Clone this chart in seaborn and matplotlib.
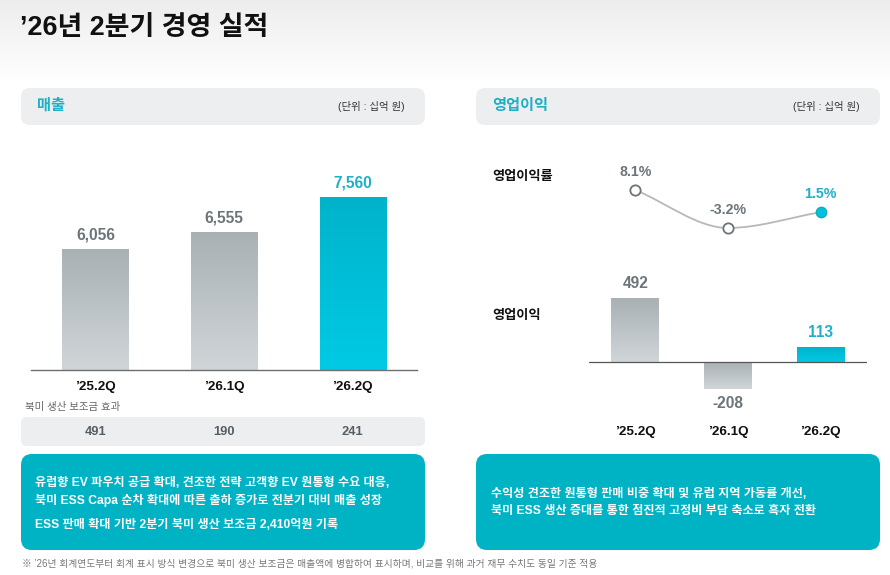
import numpy as np
import pandas as pd
import matplotlib
matplotlib.use("Agg")
import matplotlib.pyplot as plt
import seaborn as sns
from matplotlib.patches import FancyBboxPatch, PathPatch
from matplotlib.path import Path
from matplotlib.colors import LinearSegmentedColormap
from matplotlib.transforms import blended_transform_factory

# ---------------- data ----------------
quarters = ["’25.2Q", "’26.1Q", "’26.2Q"]
sales = [6056, 6555, 7560]
subsidy = [491, 190, 241]
op_profit = [492, -208, 113]
op_margin = [8.1, -3.2, 1.5]

title = "’26년 2분기 경영 실적"
left_header = "매출"
right_header = "영업이익"
unit_text = "(단위 : 십억 원)"
subsidy_label = "북미 생산 보조금 효과"
margin_label = "영업이익률"
profit_label = "영업이익"
left_notes = ["유럽향 EV 파우치 공급 확대, 견조한 전략 고객향 EV 원통형 수요 대응,",
              "북미 ESS Capa 순차 확대에 따른 출하 증가로 전분기 대비 매출 성장",
              "ESS 판매 확대 기반 2분기 북미 생산 보조금 2,410억원 기록"]
right_notes = ["수익성 견조한 원통형 판매 비중 확대 및 유럽 지역 가동률 개선,",
               "북미 ESS 생산 증대를 통한 점진적 고정비 부담 축소로 흑자 전환"]
footnote = "※ ’26년 회계연도부터 회계 표시 방식 변경으로 북미 생산 보조금은 매출액에 병합하여 표시하며, 비교를 위해 과거 재무 수치도 동일 기준 적용"

# ---------------- style ----------------
sns.set_theme(style="white")
plt.rcParams["font.family"] = ["Liberation Sans", "Noto Sans CJK KR", "DejaVu Sans"]

W, H = 890, 575
TEAL = "#1db0c6"
TEAL_BOX = "#00b3c4"
GRAY_TXT = "#6b757a"
HEADER_BG = "#eceef0"
GRAY_TOP, GRAY_BOT = "#a9b1b5", "#d0d5d8"
TEAL_TOP, TEAL_BOT = "#00b3cb", "#00cae4"

fig = plt.figure(figsize=(W / 100, H / 100), dpi=100)


def rect(x0, y0, x1, y1):
    return [x0 / W, 1 - y1 / H, (x1 - x0) / W, (y1 - y0) / H]


# background axes in pixel coordinates
bg = fig.add_axes([0, 0, 1, 1], zorder=0)
bg.set_xlim(0, W)
bg.set_ylim(H, 0)
bg.axis("off")

# top gradient
gcm = LinearSegmentedColormap.from_list("g", ["#ededed", "#ffffff"])
bg.imshow(np.linspace(0, 1, 100).reshape(-1, 1), cmap=gcm, aspect="auto",
          extent=(0, W, 82, 0), zorder=0)
bg.set_xlim(0, W)
bg.set_ylim(H, 0)


def rbox(x0, y0, x1, y1, color, r=9):
    p = FancyBboxPatch((x0, y0), x1 - x0, y1 - y0,
                       boxstyle=f"round,pad=0,rounding_size={r}",
                       facecolor=color, edgecolor="none", zorder=1)
    bg.add_patch(p)


bg.text(20, 28, title, fontsize=19.4, fontweight="heavy", color="#111111",
        va="center", ha="left")

# headers
rbox(21, 88, 425, 125, HEADER_BG)
rbox(476, 88, 880, 125, HEADER_BG)
bg.text(37, 106, left_header, fontsize=11, fontweight="bold", color=TEAL, va="center")
bg.text(405, 106, unit_text, fontsize=7.5, color="#333333", va="center", ha="right")
bg.text(492, 106, right_header, fontsize=11, fontweight="bold", color=TEAL, va="center")
bg.text(860, 106, unit_text, fontsize=7.5, color="#333333", va="center", ha="right")

# subsidy row
bg.text(25, 407, subsidy_label, fontsize=7.5, color="#666666", va="center")
rbox(21, 417, 425, 446, HEADER_BG, r=6)

# teal boxes
rbox(21, 454, 425, 550, TEAL_BOX, r=11)
rbox(476, 454, 880, 550, TEAL_BOX, r=11)
for txt, y in zip(left_notes, [483, 500, 525]):
    bg.text(35, y, txt, fontsize=8.7, fontweight="bold", color="white", va="center")
for txt, y in zip(right_notes, [494, 511]):
    bg.text(491, y, txt, fontsize=8.7, fontweight="bold", color="white", va="center")

bg.text(22, 563, footnote, fontsize=7.0, color="#777777", va="center")

# right side labels
bg.text(492, 177, margin_label, fontsize=9.5, fontweight="bold", color="#111111", va="center")
bg.text(492, 316, profit_label, fontsize=9.5, fontweight="bold", color="#111111", va="center")


def grad_bars(ax, colors):
    ylo_lim, yhi_lim = ax.get_ylim()
    xl = ax.get_xlim()
    for patch, (ctop, cbot) in zip(ax.patches, colors):
        x0, y0 = patch.get_x(), patch.get_y()
        w, h = patch.get_width(), patch.get_height()
        lo, hi = min(y0, y0 + h), max(y0, y0 + h)
        lo = max(lo, ylo_lim)
        cm = LinearSegmentedColormap.from_list("b", [ctop, cbot])
        im = ax.imshow(np.linspace(0, 1, 100).reshape(-1, 1), cmap=cm, aspect="auto",
                       extent=(x0, x0 + w, lo, hi), origin="upper", zorder=2)
        im.set_clip_path(patch)
        patch.set_facecolor("none")
    ax.set_xlim(xl)
    ax.set_ylim(ylo_lim, yhi_lim)


bar_colors = [(GRAY_TOP, GRAY_BOT), (GRAY_TOP, GRAY_BOT), (TEAL_TOP, TEAL_BOT)]
label_colors = [GRAY_TXT, GRAY_TXT, TEAL]

# ---------------- left: sales ----------------
ax1 = fig.add_axes(rect(31, 150, 417, 370), zorder=2)
ax1.patch.set_alpha(0)
df_s = pd.DataFrame({"q": quarters, "v": sales})
sns.barplot(data=df_s, x="q", y="v", hue="q", palette=[c[0] for c in bar_colors],
            width=0.513, legend=False, ax=ax1, edgecolor="none")
ax1.set_xlim(-0.5, 2.5)
ax1.set_ylim(2556, 8920)
grad_bars(ax1, bar_colors)
for i, v in enumerate(sales):
    ax1.annotate(f"{v:,}", (i, v), xytext=(0, 10), textcoords="offset points",
                 ha="center", va="center", fontsize=11.2, fontweight="bold",
                 color=label_colors[i])
for s in ["top", "left", "right"]:
    ax1.spines[s].set_visible(False)
ax1.spines["bottom"].set_color("#6f6f6f")
ax1.spines["bottom"].set_linewidth(1.0)
ax1.set_yticks([])
ax1.set_xlabel("")
ax1.set_ylabel("")
ax1.tick_params(axis="x", length=0, pad=8)
for t in ax1.get_xticklabels():
    t.set_fontweight("bold")
    t.set_fontsize(9.7)
    t.set_color("#111111")

trans = blended_transform_factory(ax1.transData, bg.transData)
for i, v in enumerate(subsidy):
    bg.text(i, 432, f"{v:,}", transform=trans, ha="center", va="center",
            fontsize=9.3, fontweight="bold", color="#555e63", zorder=3)

# ---------------- right: margin line ----------------
ax2 = fig.add_axes(rect(589, 150, 867, 250), zorder=2)
ax2.patch.set_alpha(0)
ax2.set_xlim(-0.5, 2.5)
ax2.set_ylim(-9.76, 20.0)
ax2.axis("off")

xs = np.arange(len(op_margin), dtype=float)
ys = np.array(op_margin, dtype=float)
sl = np.diff(ys) / np.diff(xs)
tang = np.empty_like(ys)
tang[0], tang[-1] = sl[0], sl[-1]
for k in range(1, len(ys) - 1):
    tang[k] = 0.0 if sl[k - 1] * sl[k] <= 0 else (sl[k - 1] + sl[k]) / 2
verts = [(xs[0], ys[0])]
codes = [Path.MOVETO]
for k in range(len(ys) - 1):
    dx = (xs[k + 1] - xs[k]) / 3
    verts += [(xs[k] + dx, ys[k] + tang[k] * dx),
              (xs[k + 1] - dx, ys[k + 1] - tang[k + 1] * dx),
              (xs[k + 1], ys[k + 1])]
    codes += [Path.CURVE4] * 3
ax2.add_patch(PathPatch(Path(verts, codes), facecolor="none", edgecolor="#b5b9bc",
                        lw=1.3, zorder=2))

df_m = pd.DataFrame({"q": xs, "v": ys})
sns.scatterplot(data=df_m.iloc[:2], x="q", y="v", ax=ax2, s=55, color="white",
                edgecolor="#6b7479", linewidth=1.3, zorder=3)
sns.scatterplot(data=df_m.iloc[2:], x="q", y="v", ax=ax2, s=55, color="#00c2dc",
                edgecolor="#14a8bd", linewidth=1.0, zorder=3)
ax2.set_xlim(-0.5, 2.5)
ax2.set_ylim(-9.76, 20.0)
for i, v in enumerate(op_margin):
    ax2.annotate(f"{v:.1f}%", (i, v), xytext=(0, 12.8), textcoords="offset points",
                 ha="center", va="center", fontsize=10.2, fontweight="bold",
                 color=label_colors[i])

# ---------------- right: operating profit bars ----------------
ax3 = fig.add_axes(rect(589, 260, 867, 412), zorder=2)
ax3.patch.set_alpha(0)
df_p = pd.DataFrame({"q": quarters, "v": op_profit})
sns.barplot(data=df_p, x="q", y="v", hue="q", palette=[c[0] for c in bar_colors],
            width=0.516, legend=False, ax=ax3, edgecolor="none")
ax3.set_xlim(-0.5, 2.5)
ax3.set_ylim(-385, 785)
grad_bars(ax3, bar_colors)
ax3.axhline(0, color="#555555", lw=0.9, zorder=3)
for i, v in enumerate(op_profit):
    off = 10.5 if v >= 0 else -10.5
    ax3.annotate(f"{v:,}", (i, v), xytext=(0, off), textcoords="offset points",
                 ha="center", va="center", fontsize=11.2, fontweight="bold",
                 color=label_colors[i])
for s in ax3.spines.values():
    s.set_visible(False)
ax3.set_yticks([])
ax3.set_xlabel("")
ax3.set_ylabel("")
ax3.tick_params(axis="x", length=0, pad=10)
for t in ax3.get_xticklabels():
    t.set_fontweight("bold")
    t.set_fontsize(9.7)
    t.set_color("#111111")

fig.savefig("out.png", dpi=100)
